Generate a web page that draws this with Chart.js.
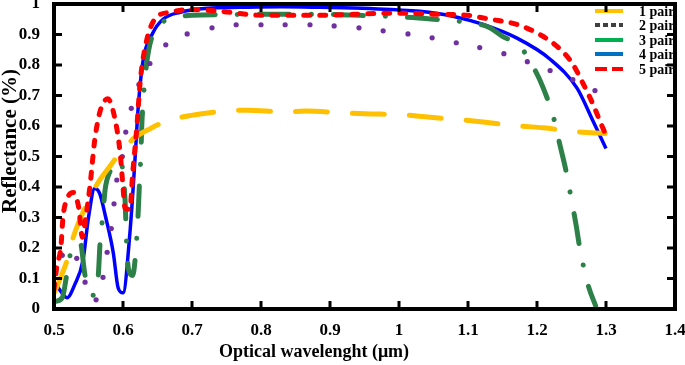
<!DOCTYPE html>
<html lang="en">
<head>
  <meta charset="UTF-8">
  <title>Reflectance vs wavelength</title>
  <style>
    body {
      margin: 0;
      background-color: #ffffff;
    }

    .chart-box {
      position: relative;
      width: 685px;
      height: 365px;
    }
  </style>
</head>
<body>
  <div class="chart-box">
    <canvas id="reflectChart"></canvas>
  </div>

  <script src="https://cdn.jsdelivr.net/npm/chart.js"></script>
  <script>
    // values
    const seriesNames = ['1 pair', '2 pair', '3 pair', '4 pair', '5 pair'];

    const pair1X = [0.501, 0.52, 0.528, 0.548, 0.564, 0.58, 0.596, 0.607, 0.617, 0.64, 0.664, 0.694, 0.72, 0.748, 0.78, 0.835, 0.865, 0.919, 0.951, 1.004, 1.038, 1.091, 1.122, 1.175, 1.209, 1.259, 1.299];
    const pair1Y = [0.056, 0.167, 0.236, 0.346, 0.415, 0.465, 0.513, 0.54, 0.562, 0.592, 0.617, 0.633, 0.642, 0.649, 0.652, 0.646, 0.649, 0.643, 0.64, 0.637, 0.63, 0.62, 0.613, 0.6, 0.594, 0.581, 0.575];

    const pair2X = [0.5, 0.512, 0.533, 0.545, 0.561, 0.571, 0.577, 0.583, 0.587, 0.591, 0.599, 0.604, 0.612, 0.623, 0.639, 0.662, 0.693, 0.729, 0.764, 0.8, 0.835, 0.871, 0.906, 0.942, 0.977, 1.013, 1.048, 1.083, 1.117, 1.152, 1.186, 1.219, 1.252, 1.284];
    const pair2Y = [0.101, 0.176, 0.166, 0.088, 0.03, 0.104, 0.186, 0.264, 0.345, 0.423, 0.5, 0.58, 0.658, 0.736, 0.805, 0.866, 0.902, 0.922, 0.932, 0.932, 0.932, 0.932, 0.928, 0.922, 0.912, 0.902, 0.889, 0.873, 0.857, 0.837, 0.811, 0.782, 0.752, 0.716];

    const pair3X = [0.5, 0.512, 0.519, 0.526, 0.538, 0.545, 0.557, 0.564, 0.567, 0.571, 0.574, 0.581, 0.596, 0.603, 0.605, 0.608, 0.614, 0.62, 0.622, 0.624, 0.626, 0.627, 0.629, 0.633, 0.639, 0.651, 0.672, 0.7, 0.75, 0.8, 0.85, 0.9, 0.95, 1.0, 1.05, 1.099, 1.13, 1.15, 1.175, 1.194, 1.209, 1.226, 1.233, 1.241, 1.251, 1.257, 1.262, 1.274, 1.285];
    const pair3Y = [0.024, 0.037, 0.12, 0.2, 0.218, 0.11, 0.045, 0.105, 0.225, 0.31, 0.39, 0.45, 0.485, 0.356, 0.225, 0.13, 0.11, 0.235, 0.316, 0.42, 0.51, 0.59, 0.672, 0.78, 0.868, 0.927, 0.953, 0.963, 0.965, 0.966, 0.966, 0.966, 0.962, 0.958, 0.95, 0.94, 0.924, 0.894, 0.862, 0.796, 0.725, 0.611, 0.54, 0.464, 0.346, 0.271, 0.2, 0.079, 0.01];

    const pair4X = [0.5, 0.506, 0.519, 0.53, 0.542, 0.55, 0.559, 0.566, 0.575, 0.586, 0.593, 0.6, 0.61, 0.617, 0.622, 0.629, 0.643, 0.658, 0.683, 0.722, 0.77, 0.83, 0.886, 0.958, 1.03, 1.078, 1.122, 1.171, 1.219, 1.258, 1.281, 1.3];
    const pair4Y = [0.089, 0.07, 0.037, 0.08, 0.16, 0.3, 0.395, 0.38, 0.3, 0.183, 0.069, 0.053, 0.249, 0.477, 0.66, 0.813, 0.904, 0.95, 0.973, 0.986, 0.989, 0.991, 0.989, 0.985, 0.976, 0.96, 0.933, 0.888, 0.819, 0.724, 0.617, 0.526];

    const pair5X = [0.5, 0.504, 0.51, 0.513, 0.52, 0.528, 0.536, 0.541, 0.546, 0.552, 0.559, 0.567, 0.578, 0.588, 0.596, 0.6, 0.603, 0.61, 0.614, 0.62, 0.625, 0.633, 0.646, 0.668, 0.697, 0.741, 0.801, 0.845, 0.886, 0.933, 0.994, 1.057, 1.099, 1.132, 1.171, 1.204, 1.229, 1.251, 1.267, 1.281, 1.294, 1.3];
    const pair5Y = [0.063, 0.138, 0.203, 0.3, 0.366, 0.382, 0.33, 0.235, 0.3, 0.4, 0.553, 0.65, 0.689, 0.627, 0.509, 0.4, 0.33, 0.327, 0.444, 0.594, 0.747, 0.868, 0.95, 0.973, 0.982, 0.976, 0.963, 0.963, 0.963, 0.966, 0.97, 0.966, 0.963, 0.95, 0.933, 0.9, 0.861, 0.806, 0.738, 0.672, 0.601, 0.57];

    const xTickValues = [0.5, 0.6, 0.7, 0.8, 0.9, 1, 1.1, 1.2, 1.3, 1.4];
    const yTickValues = [0, 0.1, 0.2, 0.3, 0.4, 0.5, 0.6, 0.7, 0.8, 0.9, 1];

    const toPoints = (xs, ys) => xs.map((v, i) => ({ x: v, y: ys[i] }));
    const serif = '"Liberation Serif", "Times New Roman", serif';

    // frame, inward ticks, legend and axis titles
    const framePlugin = {
      id: 'frame',
      afterDatasetsDraw(chart) {
        const ctx = chart.ctx;
        const a = chart.chartArea;
        const xs = chart.scales.x;
        const ys = chart.scales.y;

        // legend (clipped by the right border like the original)
        const legend = [
          { color: '#FFC000', dash: [] },
          { color: '#404040', dash: [5, 3] },
          { color: '#00B050', dash: [] },
          { color: '#0070C0', dash: [] },
          { color: '#FF0000', dash: [12, 5] }
        ];
        const rowY = [11, 25, 40, 54, 69];
        ctx.save();
        ctx.beginPath();
        ctx.rect(a.left, a.top, a.right - a.left, a.bottom - a.top);
        ctx.clip();
        legend.forEach((l, i) => {
          ctx.strokeStyle = l.color;
          ctx.lineWidth = 4;
          ctx.setLineDash(l.dash);
          ctx.beginPath();
          ctx.moveTo(595, rowY[i]);
          ctx.lineTo(623, rowY[i]);
          ctx.stroke();
          ctx.setLineDash([]);
          ctx.fillStyle = '#000';
          ctx.font = 'bold 14px ' + serif;
          ctx.textAlign = 'left';
          ctx.textBaseline = 'middle';
          ctx.fillText(seriesNames[i], 639, rowY[i] + 1);
        });
        ctx.restore();

        ctx.save();
        ctx.strokeStyle = '#000';
        ctx.lineWidth = 4;
        ctx.strokeRect(a.left, a.top, a.right - a.left, a.bottom - a.top);
        ctx.lineWidth = 3;
        ctx.beginPath();
        xTickValues.forEach(v => {
          const px = xs.getPixelForValue(v);
          ctx.moveTo(px, a.bottom);
          ctx.lineTo(px, a.bottom - 8);
          ctx.moveTo(px, a.top);
          ctx.lineTo(px, a.top + 8);
        });
        yTickValues.forEach(v => {
          const py = ys.getPixelForValue(v);
          ctx.moveTo(a.left, py);
          ctx.lineTo(a.left + 8, py);
          ctx.moveTo(a.right, py);
          ctx.lineTo(a.right - 8, py);
        });
        ctx.stroke();

        // axis titles
        ctx.fillStyle = '#000';
        ctx.textAlign = 'center';
        ctx.textBaseline = 'middle';
        ctx.font = 'bold 18px ' + serif;
        ctx.fillText('Optical wavelenght (\u03bcm)', 314, 352);
        ctx.translate(11, 141);
        ctx.rotate(-Math.PI / 2);
        ctx.font = 'bold 21px ' + serif;
        ctx.fillText('Reflectance (%)', 0, 0);
        ctx.restore();
      }
    };

    const ctx = document.getElementById('reflectChart').getContext('2d');
    const reflectChart = new Chart(ctx, {
      type: 'scatter',
      data: {
        datasets: [
          {
            label: seriesNames[4],
            data: toPoints(pair5X, pair5Y),
            showLine: true,
            borderColor: '#FF0000',
            borderWidth: 5,
            borderDash: [6, 10],
            borderCapStyle: 'round',
            cubicInterpolationMode: 'monotone',
            pointRadius: 0,
            order: 0
          },
          {
            label: seriesNames[0],
            data: toPoints(pair1X, pair1Y),
            showLine: true,
            borderColor: '#FFC000',
            borderWidth: 5,
            borderDash: [32, 25],
            borderCapStyle: 'round',
            cubicInterpolationMode: 'monotone',
            pointRadius: 0,
            order: 1
          },
          {
            label: seriesNames[1],
            data: toPoints(pair2X, pair2Y),
            showLine: false,
            backgroundColor: '#7030A0',
            borderWidth: 0,
            pointRadius: 2.6,
            order: 2
          },
          {
            label: seriesNames[2],
            data: toPoints(pair3X, pair3Y),
            showLine: true,
            borderColor: '#2E8049',
            borderWidth: 5,
            borderDash: [30, 22, 0.1, 22],
            borderCapStyle: 'round',
            cubicInterpolationMode: 'monotone',
            pointRadius: 0,
            order: 3
          },
          {
            label: seriesNames[3],
            data: toPoints(pair4X, pair4Y),
            showLine: true,
            borderColor: '#0000FF',
            borderWidth: 3.5,
            cubicInterpolationMode: 'monotone',
            pointRadius: 0,
            order: 4
          }
        ]
      },
      options: {
        responsive: true,
        maintainAspectRatio: false,
        animation: false,
        layout: {
          padding: { top: 2, right: 10, left: 0, bottom: 0 }
        },
        plugins: {
          legend: { display: false },
          tooltip: { enabled: false }
        },
        scales: {
          x: {
            type: 'linear',
            min: 0.5,
            max: 1.4,
            grid: { display: false },
            border: { display: false },
            afterBuildTicks: s => { s.ticks = xTickValues.map(v => ({ value: v })); },
            afterFit: s => { s.height = 56; s.paddingLeft = 0; s.paddingRight = 0; },
            ticks: {
              color: '#000',
              padding: 3,
              maxRotation: 0,
              font: { family: serif, size: 17, weight: 'bold' },
              callback: v => String(Math.round(v * 10) / 10)
            }
          },
          y: {
            type: 'linear',
            min: 0,
            max: 1,
            grid: { display: false },
            border: { display: false },
            afterBuildTicks: s => { s.ticks = yTickValues.map(v => ({ value: v })); },
            afterFit: s => { s.width = 54; s.paddingTop = 0; s.paddingBottom = 0; },
            ticks: {
              color: '#000',
              padding: 6,
              font: { family: serif, size: 17, weight: 'bold' },
              callback: v => String(Math.round(v * 10) / 10)
            }
          }
        }
      },
      plugins: [framePlugin]
    });
  </script>
</body>
</html>
